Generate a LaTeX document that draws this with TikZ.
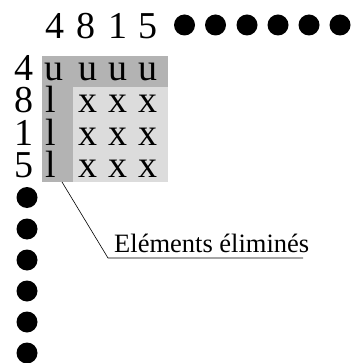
\documentclass[tikz,border=0pt]{standalone}
\usepackage{fontspec}
\setmainfont{Liberation Serif}
\definecolor{darkcell}{RGB}{179,179,179}
\definecolor{lightcell}{RGB}{220,220,220}
\begin{document}
\begin{tikzpicture}[x=1pt,y=-1pt,
  big/.style={inner sep=0pt,anchor=base,font=\fontsize{38}{38}\selectfont},
  dot/.style={circle,fill=black,inner sep=0pt,minimum size=21pt},
  lbl/.style={inner sep=0pt,anchor=base west,font=\fontsize{26.5}{26.5}\selectfont}]
\useasboundingbox (0,0) rectangle (352,363);
% grid backgrounds
\fill[darkcell] (42,56) rectangle (168,182);
\fill[lightcell] (73,87) rectangle (168,182);
% top labels
\node[big] (t1) at (54.5,39) {4};
\node[big] (t2) at (86,39) {8};
\node[big] (t3) at (117.5,39) {1};
\node[big] (t4) at (148,39) {5};
\foreach \x [count=\i] in {184.5,215.5,247,278,309,340}
  \node[dot] (td\i) at (\x,25) {};
% left labels
\node[big] (r1) at (24,81) {4};
\node[big] (r2) at (24,113) {8};
\node[big] (r3) at (24,146) {1};
\node[big] (r4) at (24,178) {5};
\foreach \y [count=\i] in {197.5,229,260,291,322,353}
  \node[dot] (ld\i) at (27,\y) {};
% cells
\node[big] (u1) at (54,81) {u};
\node[big] (u2) at (88,81) {u};
\node[big] (u3) at (117.5,81) {u};
\node[big] (u4) at (148,81) {u};
\foreach \y [count=\j] in {113,146,178} {
  \node[big] (l\j) at (51,\y) {l};
  \node[big] (x\j a) at (88,\y) {x};
  \node[big] (x\j b) at (117.5,\y) {x};
  \node[big] (x\j c) at (148,\y) {x};
}
% leader
\coordinate (corner) at (62,182);
\node[lbl] (elim) at (114,252) {Eléments éliminés};
\coordinate (bend) at (108,258);
\coordinate (lend) at (303,258);
\draw[line width=0.6pt] (corner) -- (bend) -- (lend);
\end{tikzpicture}
\end{document}
